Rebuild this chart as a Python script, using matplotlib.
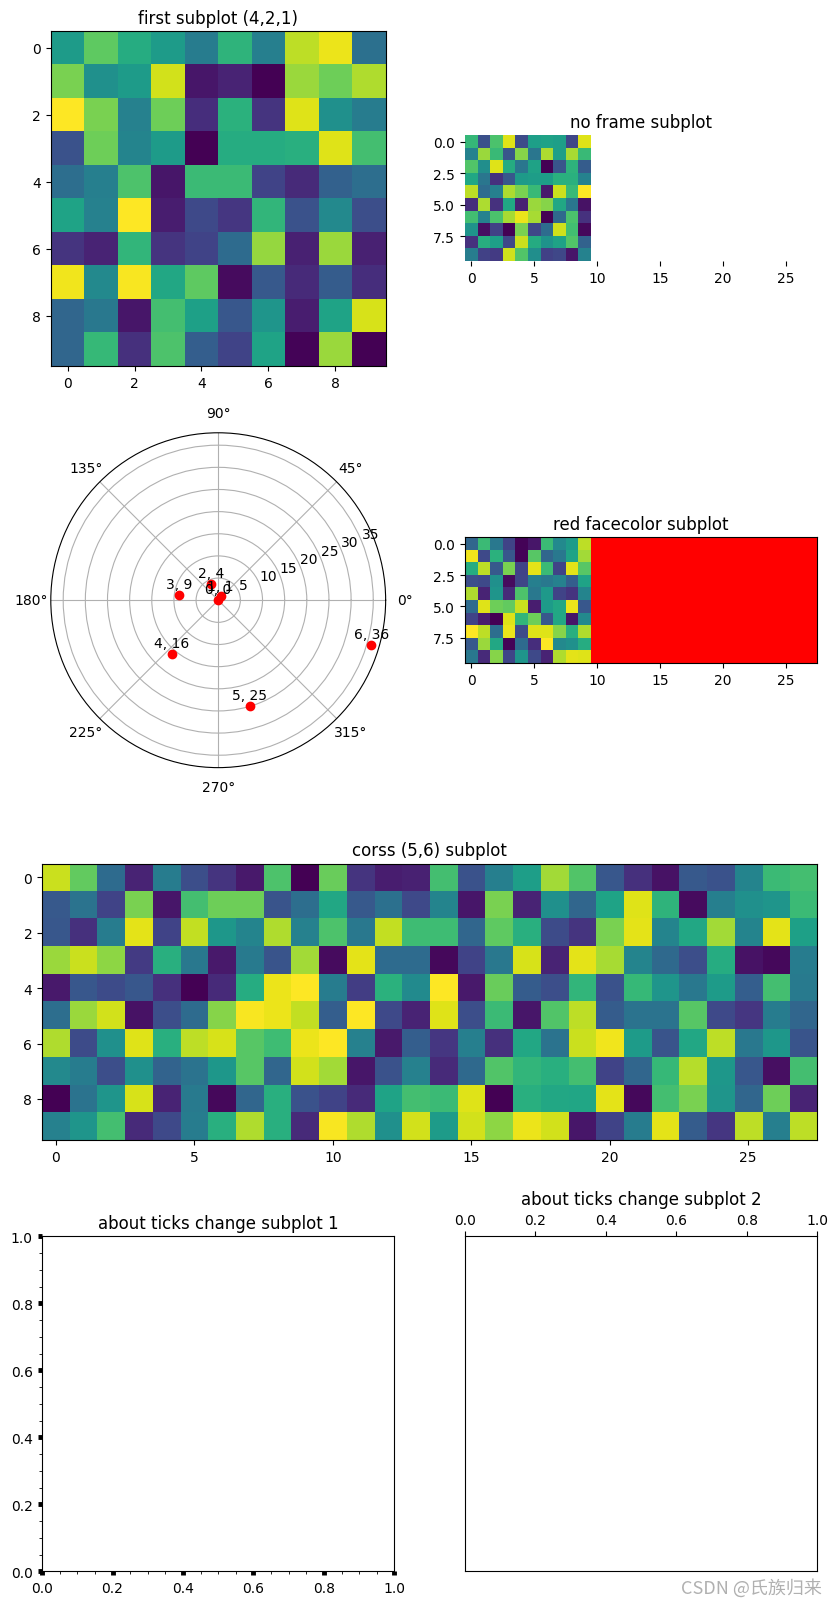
import matplotlib.pyplot as plt
import numpy as np

# image values (viridis, each image normalised on its own)
first_img = [
    [0.55, 0.75, 0.62, 0.55, 0.42, 0.65, 0.43, 0.90, 0.97, 0.37],
    [0.80, 0.50, 0.55, 0.93, 0.06, 0.10, 0.00, 0.85, 0.78, 0.88],
    [1.00, 0.80, 0.44, 0.78, 0.13, 0.64, 0.15, 0.95, 0.50, 0.42],
    [0.25, 0.78, 0.45, 0.55, 0.00, 0.62, 0.62, 0.63, 0.95, 0.70],
    [0.36, 0.43, 0.72, 0.06, 0.68, 0.68, 0.20, 0.12, 0.31, 0.36],
    [0.58, 0.44, 1.00, 0.08, 0.22, 0.16, 0.66, 0.25, 0.47, 0.24],
    [0.15, 0.10, 0.66, 0.15, 0.20, 0.35, 0.84, 0.09, 0.85, 0.09],
    [0.98, 0.47, 0.99, 0.60, 0.75, 0.03, 0.28, 0.12, 0.29, 0.13],
    [0.33, 0.40, 0.06, 0.70, 0.57, 0.27, 0.52, 0.08, 0.58, 0.94],
    [0.33, 0.67, 0.14, 0.72, 0.30, 0.20, 0.58, 0.01, 0.85, 0.00],
]

noframe_img = [
    [0.67, 0.25, 0.72, 0.95, 0.24, 0.57, 0.58, 0.57, 0.22, 0.95],
    [0.45, 0.85, 0.68, 0.27, 0.82, 0.40, 0.88, 0.57, 0.87, 0.68],
    [0.73, 0.50, 0.95, 0.62, 0.40, 0.58, 0.01, 0.27, 0.65, 0.30],
    [0.60, 0.40, 0.15, 0.28, 0.55, 0.56, 0.56, 0.64, 0.64, 0.45],
    [0.90, 0.36, 0.44, 0.88, 0.80, 0.68, 0.08, 0.92, 0.68, 1.00],
    [0.14, 0.88, 0.15, 0.60, 0.10, 0.85, 0.82, 0.60, 0.40, 0.06],
    [0.70, 0.45, 0.72, 0.87, 0.97, 0.87, 0.01, 0.35, 0.72, 0.15],
    [0.52, 0.05, 0.20, 0.01, 0.80, 0.22, 0.36, 0.93, 0.70, 0.03],
    [0.15, 0.63, 0.57, 0.22, 0.92, 0.62, 0.52, 0.58, 0.73, 0.32],
    [0.43, 0.20, 0.18, 0.93, 0.73, 0.50, 0.20, 0.22, 0.07, 0.45],
]

red_img = [
    [0.33, 0.68, 0.40, 0.20, 0.01, 0.06, 0.68, 0.47, 0.55, 0.90],
    [0.98, 0.22, 0.64, 0.27, 0.01, 0.74, 0.33, 0.40, 0.58, 0.86],
    [0.62, 0.90, 0.28, 0.80, 0.20, 0.96, 0.68, 0.20, 0.96, 0.74],
    [0.24, 0.22, 0.50, 0.03, 0.21, 0.43, 0.40, 0.44, 0.30, 0.58],
    [0.88, 0.10, 0.52, 0.12, 0.72, 0.40, 0.54, 0.20, 0.15, 0.45],
    [0.35, 0.95, 0.78, 0.76, 0.92, 0.08, 0.55, 0.60, 0.97, 0.27],
    [0.20, 0.08, 0.00, 0.95, 0.66, 0.78, 0.27, 0.60, 0.06, 0.47],
    [1.00, 0.90, 0.36, 0.97, 0.23, 0.95, 0.95, 0.82, 0.63, 0.88],
    [0.28, 0.85, 0.60, 0.01, 0.35, 0.13, 1.00, 0.47, 0.50, 0.62],
    [0.40, 0.12, 0.82, 0.21, 0.52, 0.22, 0.10, 0.88, 0.96, 0.95],
]

cross_img = [
    [0.92, 0.76, 0.35, 0.10, 0.42, 0.24, 0.15, 0.07, 0.72, 0.00, 0.77, 0.15, 0.08, 0.09,
     0.70, 0.25, 0.43, 0.56, 0.86, 0.73, 0.27, 0.14, 0.05, 0.28, 0.25, 0.45, 0.68, 0.70],
    [0.28, 0.38, 0.20, 0.80, 0.06, 0.70, 0.78, 0.78, 0.26, 0.36, 0.60, 0.28, 0.37, 0.22,
     0.45, 0.06, 0.80, 0.10, 0.50, 0.33, 0.58, 0.95, 0.65, 0.03, 0.43, 0.50, 0.52, 0.68],
    [0.27, 0.14, 0.42, 0.96, 0.20, 0.91, 0.53, 0.45, 0.88, 0.44, 0.72, 0.40, 0.91, 0.69,
     0.69, 0.33, 0.75, 0.63, 0.23, 0.15, 0.80, 0.96, 0.45, 0.60, 0.86, 0.45, 0.96, 0.57],
    [0.85, 0.92, 0.83, 0.17, 0.63, 0.40, 0.07, 0.41, 0.26, 0.86, 0.03, 0.96, 0.35, 0.35,
     0.02, 0.20, 0.40, 0.94, 0.10, 0.96, 0.87, 0.45, 0.34, 0.24, 0.62, 0.05, 0.02, 0.42],
    [0.07, 0.27, 0.23, 0.27, 0.14, 0.00, 0.12, 0.62, 0.97, 1.00, 0.42, 0.18, 0.64, 0.48,
     1.00, 0.07, 0.77, 0.29, 0.24, 0.66, 0.25, 0.67, 0.52, 0.40, 0.55, 0.30, 0.70, 0.41],
    [0.36, 0.85, 0.93, 0.05, 0.24, 0.35, 0.82, 0.99, 0.97, 0.91, 0.30, 1.00, 0.22, 0.10,
     0.95, 0.24, 0.68, 0.06, 0.73, 0.90, 0.29, 0.38, 0.38, 0.74, 0.22, 0.16, 0.42, 0.33],
    [0.88, 0.23, 0.50, 0.95, 0.63, 0.90, 0.94, 0.74, 0.69, 0.97, 1.00, 0.44, 0.07, 0.30,
     0.16, 0.43, 0.14, 0.60, 0.38, 0.92, 0.98, 0.55, 0.26, 0.60, 0.90, 0.40, 0.53, 0.26],
    [0.47, 0.42, 0.24, 0.50, 0.32, 0.38, 0.53, 0.74, 0.33, 0.93, 0.86, 0.06, 0.25, 0.44,
     0.12, 0.34, 0.73, 0.66, 0.63, 0.70, 0.20, 0.33, 0.67, 0.89, 0.53, 0.27, 0.04, 0.70],
    [0.00, 0.38, 0.52, 0.94, 0.10, 0.41, 0.02, 0.33, 0.63, 0.25, 0.20, 0.12, 0.58, 0.70,
     0.68, 0.95, 0.00, 0.63, 0.60, 0.59, 0.96, 0.02, 0.70, 0.80, 0.52, 0.33, 0.78, 0.10],
    [0.44, 0.52, 0.70, 0.12, 0.22, 0.42, 0.63, 0.88, 0.63, 0.12, 0.99, 0.88, 0.50, 0.93,
     0.55, 0.93, 0.83, 0.97, 0.93, 0.06, 0.20, 0.42, 0.96, 0.29, 0.16, 0.90, 0.43, 0.90],
]

polar_theta = [0, 1, 2, 3, 4, 5, 6]
polar_r = [0, 1, 4, 9, 16, 25, 36]

fig = plt.figure(figsize=(8.37, 16.06), dpi=100)
gs = fig.add_gridspec(4, 2, left=0.0502, right=0.9765, top=0.9801, bottom=0.0210,
                      wspace=0.2, hspace=0.2)

ax1 = fig.add_subplot(gs[0, 0])
ax1.imshow(np.array(first_img))
ax1.set_title('first subplot (4,2,1)')

ax2 = fig.add_subplot(gs[0, 1], frameon=False)
ax2.imshow(np.array(noframe_img))
ax2.set_title('no frame subplot')

ax3 = fig.add_subplot(gs[1, 0], projection='polar')
ax3.plot(polar_theta, polar_r, 'ro')
for t, r in zip(polar_theta, polar_r):
    ax3.annotate(f'{t}, {r}', (t, r), textcoords='offset points', xytext=(0, 5),
                 ha='center')

ax4 = fig.add_subplot(gs[1, 1], sharex=ax2, facecolor='red')
ax4.imshow(np.array(red_img))
ax4.set_title('red facecolor subplot')

# wide image last so its x range is the one the shared axes keep
ax5 = fig.add_subplot(gs[2, :], sharex=ax2)
ax5.imshow(np.array(cross_img))
ax5.set_title('corss (5,6) subplot')

ax6 = fig.add_subplot(gs[3, 0])
ax6.set_title('about ticks change subplot 1')
ax6.minorticks_on()
ax6.tick_params(which='major', length=3.2, width=3.5)

ax7 = fig.add_subplot(gs[3, 1])
ax7.set_title('about ticks change subplot 2')
ax7.xaxis.tick_top()
ax7.set_yticks([])

fig.text(0.982, 0.0112, 'CSDN @氏族归来', ha='right', va='center', fontsize=13,
         color='#b0b0b0', family=['Noto Sans CJK SC', 'DejaVu Sans'])

fig.savefig('out.png', dpi=100)
